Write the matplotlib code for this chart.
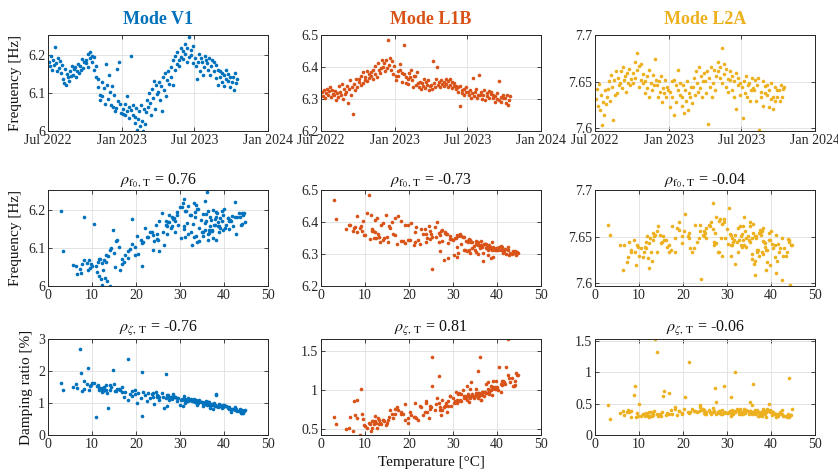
import numpy as np
import matplotlib
matplotlib.use("Agg")
import matplotlib.pyplot as plt
import matplotlib.dates as mdates
from matplotlib.ticker import FuncFormatter

plt.rcParams["font.family"] = "Liberation Serif"
plt.rcParams["mathtext.fontset"] = "stix"

# measurement days, counted from 1 Jul 2022
days = [
    3, 5, 8, 10, 13, 15, 18, 20, 23, 25, 28, 30,
    33, 35, 38, 40, 43, 45, 48, 50, 53, 55, 58, 60,
    63, 65, 68, 70, 73, 75, 78, 80, 83, 85, 88, 90,
    94, 96, 99, 101, 104, 106, 109, 111, 114, 116, 119, 121,
    124, 126, 129, 131, 134, 136, 139, 141, 144, 146, 149, 151,
    155, 157, 160, 162, 165, 167, 170, 172, 175, 177, 180, 182,
    186, 188, 191, 193, 196, 198, 201, 203, 206, 208, 211, 213,
    216, 218, 220, 223, 225, 227, 230, 232, 234, 237, 239, 241,
    245, 247, 250, 252, 255, 257, 260, 262, 265, 267, 270, 272,
    275, 277, 280, 282, 285, 287, 290, 292, 295, 297, 300, 302,
    306, 308, 311, 313, 316, 318, 321, 323, 326, 328, 331, 333,
    336, 338, 341, 343, 346, 348, 351, 353, 356, 358, 361, 363,
    367, 369, 372, 374, 377, 379, 382, 384, 387, 389, 392, 394,
    398, 400, 403, 405, 408, 410, 413, 415, 418, 420, 423, 425,
    428, 430, 433, 435, 438, 440, 443, 445, 448, 450, 453, 455,
    458, 461, 463, 466, 469, 472,
]

temperature = [
    38.2, 41.6, 36.4, 43.8, 39.7, 37.1, 42.5, 40.9, 38.8, 44.6, 35.7, 41.9,
    40.3, 34.8, 42.7, 37.6, 44.2, 36.3, 41.1, 38.9, 33.6, 42.1, 37.2, 39.5,
    36.6, 32.9, 38.7, 35.2, 30.8, 37.9, 34.4, 25.3, 29.6, 35.8, 31.7, 33.3,
    32.4, 28.7, 33.9, 27.2, 30.5, 25.8, 31.3, 28.1, 24.6, 29.4, 23.7, 26.9,
    24.8, 21.6, 23.9, 19.7, 22.8, 18.2, 21.3, 16.9, 19.1, 15.6, 20.4, 14.8,
    16.2, 12.8, 15.4, 11.3, 14.1, 10.8, 12.2, 10.4, 13.6, 8.1, 11.7, 9.5,
    9.8, 7.3, 11.9, 9.1, 3.5, 6.4, 13.2, 7.6, 3.0, 5.6, 12.6, 8.2,
    11.1, 12.9, 8.8, 12.3, 6.7, 10.1, 13.4, 9.4, 11.6, 14.2, 7.8, 12.1,
    15.3, 13.1, 17.2, 14.4, 18.1, 16.3, 19.2, 15.1, 20.3, 16.8, 21.2, 18.7,
    19.8, 22.4, 17.6, 24.1, 21.3, 23.2, 26.4, 22.1, 25.2, 23.8, 27.1, 24.7,
    26.2, 27.6, 24.9, 29.4, 26.8, 31.2, 28.3, 30.1, 32.2, 28.9, 30.7, 33.4,
    31.8, 35.3, 30.9, 34.2, 36.8, 33.1, 36.1, 38.2, 33.7, 37.4, 39.1, 35.6,
    38.4, 41.2, 36.3, 42.9, 40.1, 28.2, 44.2, 42.4, 37.2, 44.8, 39.6, 27.4,
    40.8, 37.7, 43.4, 39.8, 35.9, 44.3, 38.6, 43.7, 36.7, 41.3, 38.1, 40.4,
    36.8, 34.9, 39.2, 33.2, 35.7, 34.3, 37.9, 31.9, 35.2, 30.8, 33.8, 32.6,
    31.2, 28.8, 32.7, 27.9, 30.3, 27.1,
]

freq_v1 = [
    6.183, 6.171, 6.198, 6.162, 6.188, 6.174, 6.221, 6.179, 6.158, 6.193, 6.167, 6.185,
    6.152, 6.174, 6.138, 6.127, 6.163, 6.121, 6.149, 6.142, 6.133, 6.158, 6.146, 6.172,
    6.148, 6.163, 6.169, 6.141, 6.157, 6.176, 6.153, 6.171, 6.162, 6.189, 6.166, 6.181,
    6.187, 6.178, 6.203, 6.169, 6.208, 6.192, 6.197, 6.183, 6.161, 6.194, 6.143, 6.172,
    6.138, 6.117, 6.096, 6.083, 6.128, 6.091, 6.114, 6.072, 6.176, 6.122, 6.084, 6.147,
    6.103, 6.068, 6.118, 6.062, 6.094, 6.052, 6.061, 6.163, 6.079, 6.182, 6.071, 6.048,
    6.058, 6.046, 6.072, 6.041, 6.091, 6.053, 6.064, 6.034, 6.198, 6.055, 6.043, 6.069,
    6.038, 6.021, 6.061, 6.003, 6.032, 6.052, 6.012, 6.068, 6.027, 6.001, 6.057, 6.018,
    6.049, 6.082, 6.063, 6.101, 6.074, 6.041, 6.112, 6.088, 6.131, 6.058, 6.121, 6.097,
    6.102, 6.128, 6.081, 6.118, 6.052, 6.142, 6.109, 6.153, 6.093, 6.134, 6.158, 6.124,
    6.143, 6.168, 6.122, 6.187, 6.161, 6.198, 6.176, 6.209, 6.188, 6.172, 6.218, 6.196,
    6.212, 6.191, 6.228, 6.203, 6.182, 6.219, 6.247, 6.194, 6.213, 6.201, 6.178, 6.223,
    6.193, 6.172, 6.138, 6.181, 6.204, 6.158, 6.192, 6.183, 6.147, 6.168, 6.197, 6.186,
    6.178, 6.162, 6.193, 6.148, 6.171, 6.188, 6.157, 6.182, 6.139, 6.173, 6.121, 6.161,
    6.158, 6.141, 6.152, 6.128, 6.147, 6.118, 6.161, 6.137, 6.131, 6.149, 6.116, 6.142,
    6.128, 6.141, 6.109, 6.152, 6.126, 6.138,
]

freq_l1b = [
    6.321, 6.308, 6.327, 6.302, 6.318, 6.331, 6.312, 6.324, 6.338, 6.305, 6.329, 6.316,
    6.311, 6.326, 6.298, 6.319, 6.307, 6.342, 6.322, 6.313, 6.348, 6.301, 6.331, 6.317,
    6.323, 6.341, 6.286, 6.332, 6.358, 6.314, 6.337, 6.252, 6.346, 6.328, 6.362, 6.339,
    6.352, 6.361, 6.344, 6.372, 6.349, 6.383, 6.358, 6.368, 6.389, 6.357, 6.378, 6.366,
    6.372, 6.384, 6.363, 6.392, 6.378, 6.402, 6.369, 6.412, 6.391, 6.381, 6.398, 6.421,
    6.401, 6.412, 6.388, 6.423, 6.398, 6.485, 6.407, 6.428, 6.392, 6.418, 6.379, 6.403,
    6.358, 6.372, 6.371, 6.386, 6.409, 6.392, 6.354, 6.381, 6.469, 6.378, 6.351, 6.368,
    6.347, 6.362, 6.381, 6.368, 6.392, 6.358, 6.338, 6.373, 6.372, 6.343, 6.384, 6.351,
    6.338, 6.352, 6.331, 6.349, 6.342, 6.361, 6.334, 6.353, 6.344, 6.358, 6.329, 6.341,
    6.343, 6.332, 6.418, 6.351, 6.339, 6.362, 6.401, 6.344, 6.353, 6.336, 6.358, 6.347,
    6.352, 6.341, 6.362, 6.348, 6.338, 6.356, 6.361, 6.343, 6.352, 6.334, 6.349, 6.341,
    6.331, 6.342, 6.322, 6.336, 6.279, 6.341, 6.318, 6.329, 6.312, 6.331, 6.321, 6.338,
    6.321, 6.312, 6.328, 6.304, 6.318, 6.366, 6.309, 6.322, 6.331, 6.302, 6.314, 6.375,
    6.311, 6.322, 6.301, 6.314, 6.328, 6.298, 6.319, 6.308, 6.324, 6.302, 6.316, 6.321,
    6.304, 6.312, 6.291, 6.309, 6.301, 6.318, 6.297, 6.356, 6.307, 6.292, 6.303, 6.311,
    6.302, 6.289, 6.314, 6.282, 6.298, 6.309,
]

freq_l2a = [
    7.631, 7.642, 7.624, 7.647, 7.619, 7.636, 7.603, 7.628, 7.614, 7.641, 7.626, 7.634,
    7.642, 7.651, 7.629, 7.657, 7.644, 7.609, 7.652, 7.636, 7.661, 7.638, 7.654, 7.646,
    7.648, 7.661, 7.643, 7.666, 7.652, 7.656, 7.639, 7.659, 7.648, 7.664, 7.646, 7.653,
    7.659, 7.648, 7.671, 7.654, 7.681, 7.662, 7.644, 7.667, 7.652, 7.669, 7.649, 7.658,
    7.651, 7.638, 7.656, 7.643, 7.662, 7.633, 7.649, 7.641, 7.657, 7.646, 7.674, 7.652,
    7.646, 7.634, 7.651, 7.639, 7.656, 7.628, 7.643, 7.638, 7.652, 7.633, 7.644, 7.641,
    7.639, 7.623, 7.651, 7.634, 7.652, 7.614, 7.646, 7.628, 7.662, 7.641, 7.649, 7.636,
    7.634, 7.624, 7.646, 7.616, 7.641, 7.629, 7.651, 7.619, 7.638, 7.633, 7.644, 7.627,
    7.644, 7.654, 7.636, 7.661, 7.649, 7.639, 7.666, 7.643, 7.656, 7.634, 7.651, 7.659,
    7.651, 7.638, 7.661, 7.605, 7.654, 7.644, 7.666, 7.633, 7.649, 7.662, 7.641, 7.656,
    7.661, 7.671, 7.654, 7.666, 7.686, 7.649, 7.669, 7.658, 7.644, 7.664, 7.653, 7.639,
    7.652, 7.661, 7.641, 7.656, 7.634, 7.651, 7.621, 7.659, 7.646, 7.654, 7.636, 7.649,
    7.644, 7.611, 7.651, 7.638, 7.656, 7.633, 7.646, 7.649, 7.629, 7.641, 7.654, 7.643,
    7.641, 7.652, 7.629, 7.646, 7.654, 7.598, 7.639, 7.634, 7.651, 7.624, 7.645, 7.638,
    7.636, 7.646, 7.623, 7.641, 7.631, 7.649, 7.634, 7.621, 7.644, 7.629, 7.641, 7.633,
    7.641, 7.629, 7.646, 7.634, 7.642, 7.644,
]

damp_v1 = [
    0.92, 0.72, 1.02, 0.70, 0.88, 0.94, 0.78, 0.84, 0.98, 0.75, 1.00, 0.80,
    0.90, 1.02, 0.80, 0.95, 0.78, 0.98, 0.86, 0.92, 1.05, 0.82, 0.96, 0.88,
    0.95, 1.05, 0.90, 1.00, 1.12, 0.93, 1.08, 1.20, 1.15, 0.98, 1.10, 1.03,
    1.10, 1.18, 1.02, 1.25, 1.12, 1.30, 1.06, 1.20, 1.35, 1.15, 1.28, 1.92,
    1.25, 1.35, 1.20, 1.40, 1.30, 2.38, 0.60, 1.50, 1.38, 1.45, 1.32, 2.03,
    1.45, 1.50, 1.38, 1.55, 1.42, 0.55, 1.48, 1.62, 0.85, 1.68, 1.40, 1.52,
    1.55, 2.70, 1.48, 2.08, 1.40, 1.60, 1.42, 1.95, 1.62, 1.50, 1.38, 1.45,
    1.52, 1.40, 1.58, 1.35, 1.46, 1.62, 1.30, 1.42, 1.48, 1.55, 1.38, 1.44,
    1.38, 1.55, 1.18, 1.50, 1.10, 1.42, 1.22, 1.60, 1.00, 1.35, 1.15, 1.28,
    1.28, 1.05, 1.35, 0.98, 1.98, 1.15, 0.85, 1.25, 1.08, 1.30, 0.92, 1.18,
    1.18, 1.10, 1.22, 1.05, 1.15, 1.00, 1.28, 0.95, 1.08, 1.20, 0.90, 1.02,
    1.05, 0.90, 1.22, 1.00, 0.84, 1.12, 0.95, 1.25, 1.08, 0.80, 0.94, 1.02,
    0.92, 0.80, 1.02, 0.76, 0.94, 1.12, 0.70, 0.88, 0.95, 0.78, 0.84, 1.18,
    0.86, 1.00, 0.76, 0.94, 1.05, 0.70, 0.88, 0.80, 1.02, 0.82, 1.28, 0.92,
    0.98, 1.02, 0.90, 1.10, 0.96, 1.05, 0.92, 1.15, 1.00, 1.08, 0.95, 1.12,
    1.12, 1.20, 1.05, 1.18, 1.10, 1.25,
]

damp_l1b = [
    0.95, 1.10, 0.88, 1.05, 1.12, 0.92, 1.20, 0.98, 1.02, 1.20, 0.90, 1.08,
    1.00, 0.90, 1.15, 0.96, 1.06, 0.88, 1.12, 0.94, 0.85, 1.30, 0.98, 1.04,
    0.98, 0.90, 1.05, 0.94, 0.85, 1.10, 0.92, 1.42, 0.80, 0.96, 0.88, 0.95,
    0.90, 0.72, 1.02, 0.68, 0.86, 0.75, 0.96, 0.80, 0.64, 0.92, 0.72, 0.84,
    0.80, 0.64, 0.84, 0.58, 0.79, 0.72, 0.66, 0.70, 0.62, 0.75, 0.68, 0.55,
    0.70, 0.52, 0.66, 0.48, 0.62, 0.58, 0.67, 0.52, 0.56, 0.88, 0.61, 0.63,
    0.55, 0.48, 0.60, 1.02, 0.57, 0.52, 0.62, 0.86, 0.66, 0.50, 0.58, 0.64,
    0.57, 0.64, 0.43, 0.60, 0.66, 0.54, 0.58, 0.70, 0.52, 0.62, 0.68, 0.56,
    0.62, 0.56, 0.78, 0.60, 0.70, 0.64, 0.82, 0.58, 0.72, 0.76, 0.66, 0.70,
    0.64, 0.80, 0.74, 0.72, 0.84, 0.68, 0.90, 0.62, 1.05, 0.86, 0.78, 0.76,
    0.82, 0.88, 0.78, 0.92, 1.18, 0.95, 0.84, 0.90, 1.00, 0.86, 0.98, 0.93,
    0.95, 1.02, 0.88, 1.10, 0.98, 1.05, 1.43, 1.00, 0.92, 1.08, 1.12, 0.96,
    1.00, 1.06, 0.95, 1.10, 1.04, 0.80, 1.12, 1.65, 0.98, 1.20, 1.02, 0.75,
    1.08, 0.96, 1.15, 1.02, 0.92, 1.22, 1.00, 1.05, 0.94, 1.12, 0.98, 1.30,
    0.98, 0.92, 1.04, 0.88, 1.25, 0.95, 1.02, 0.86, 0.96, 0.84, 0.90, 0.93,
    0.86, 0.80, 0.92, 0.78, 0.84, 0.74,
]

damp_l2a = [
    0.35, 0.30, 0.38, 0.33, 0.36, 0.31, 0.40, 0.34, 0.29, 0.32, 0.37, 0.33,
    0.32, 0.38, 0.30, 0.35, 0.91, 0.34, 0.29, 0.37, 0.33, 0.36, 0.31, 0.39,
    0.36, 0.42, 0.33, 0.38, 0.35, 0.30, 0.40, 0.34, 0.37, 0.82, 0.39, 0.36,
    0.38, 0.34, 0.41, 0.75, 0.36, 0.40, 0.33, 0.38, 0.42, 0.35, 0.39, 0.43,
    0.40, 0.36, 0.44, 0.34, 0.38, 0.42, 0.35, 0.67, 0.39, 0.70, 0.60, 0.33,
    0.32, 0.36, 0.62, 0.30, 1.33, 0.34, 0.28, 0.31, 1.53, 0.38, 0.33, 0.35,
    0.30, 0.36, 0.34, 0.78, 0.25, 0.38, 0.32, 0.40, 0.48, 0.35, 0.31, 0.28,
    0.34, 0.30, 0.64, 0.36, 0.32, 0.49, 0.38, 0.29, 0.35, 0.33, 0.37, 0.31,
    0.36, 0.33, 0.40, 0.31, 0.44, 0.35, 0.38, 0.30, 0.42, 0.34, 0.37, 0.32,
    0.35, 0.38, 0.34, 0.40, 1.17, 0.36, 0.33, 0.41, 0.37, 0.48, 0.39, 0.35,
    0.37, 0.52, 0.34, 0.78, 0.36, 0.40, 0.38, 0.35, 0.42, 0.33, 0.39, 0.36,
    1.00, 0.38, 0.60, 0.35, 0.40, 0.33, 0.37, 0.42, 0.36, 0.34, 0.39, 0.48,
    0.36, 0.33, 0.40, 0.31, 0.38, 0.35, 0.29, 0.34, 0.37, 0.42, 0.50, 0.33,
    0.34, 0.37, 0.30, 0.40, 0.36, 0.32, 0.38, 0.28, 0.35, 0.33, 0.39, 0.36,
    0.38, 0.34, 0.41, 0.36, 0.33, 0.39, 0.35, 0.37, 0.53, 0.31, 0.36, 0.40,
    0.36, 0.40, 0.33, 0.37, 0.35, 0.39,
]

mode_names = ["Mode V1", "Mode L1B", "Mode L2A"]
mode_colors = ["#0072BD", "#D95319", "#EDB120"]
rho_freq = ["0.76", "-0.73", "-0.04"]
rho_damp = ["-0.76", "0.81", "-0.06"]
freqs = [freq_v1, freq_l1b, freq_l2a]
damps = [damp_v1, damp_l1b, damp_l2a]

freq_lims = [(6.0, 6.253), (6.2, 6.5), (7.597, 7.7)]
freq_ticks = [[6.0, 6.1, 6.2], [6.2, 6.3, 6.4, 6.5], [7.6, 7.65, 7.7]]
damp_lims = [(0, 3), (0.425, 1.656), (0, 1.53)]
damp_ticks = [[0, 1, 2, 3], [0.5, 1, 1.5], [0, 0.5, 1, 1.5]]

dates = np.datetime64("2022-07-01") + np.array(days).astype("timedelta64[D]")
date_ticks = np.array(["2022-07-01", "2023-01-01", "2023-07-01", "2024-01-01"],
                      dtype="datetime64[D]")

W, H = 838, 474
fig = plt.figure(figsize=(W / 100, H / 100), dpi=100)

lefts = [48, 321, 595]
tops = [35, 190, 339]
aw, ah = 220, 96
axc = "#262626"
fmt = FuncFormatter(lambda v, p: "%g" % v)


def make_axes(row, col):
    ax = fig.add_axes([lefts[col] / W, 1 - (tops[row] + ah) / H, aw / W, ah / H])
    ax.set_axisbelow(True)
    ax.grid(True, color="#dfdfdf", lw=0.6)
    ax.tick_params(direction="in", top=True, right=True, length=3, width=0.6,
                   labelsize=10, colors=axc, pad=2)
    for s in ax.spines.values():
        s.set_linewidth(0.7)
        s.set_color(axc)
    ax.yaxis.set_major_formatter(fmt)
    return ax


def rho_title(ax, sym, value):
    ax.set_title(r"$\rho_{%s,\,\mathrm{T}}$ = %s" % (sym, value),
                 fontsize=11.5, color="#111111", pad=5)


for c in range(3):
    color = mode_colors[c]

    # frequency over time
    ax = make_axes(0, c)
    ax.plot(dates, freqs[c], "o", ms=2.6, mew=0, color=color)
    ax.set_xlim(date_ticks[0], date_ticks[-1])
    ax.set_xticks(date_ticks)
    ax.xaxis.set_major_formatter(mdates.DateFormatter("%b %Y"))
    ax.set_ylim(*freq_lims[c])
    ax.set_yticks(freq_ticks[c])
    ax.set_title(mode_names[c], fontsize=13, fontweight="bold", color=color, pad=8)
    if c == 0:
        ax.set_ylabel("Frequency [Hz]", fontsize=11, color="#111111")

    # frequency against temperature
    ax = make_axes(1, c)
    ax.plot(temperature, freqs[c], "o", ms=2.6, mew=0, color=color)
    ax.set_xlim(0, 50)
    ax.set_xticks([0, 10, 20, 30, 40, 50])
    ax.set_ylim(*freq_lims[c])
    ax.set_yticks(freq_ticks[c])
    rho_title(ax, r"\mathrm{f}_0", rho_freq[c])
    if c == 0:
        ax.set_ylabel("Frequency [Hz]", fontsize=11, color="#111111")

    # damping against temperature
    ax = make_axes(2, c)
    ax.plot(temperature, damps[c], "o", ms=2.6, mew=0, color=color)
    ax.set_xlim(0, 50)
    ax.set_xticks([0, 10, 20, 30, 40, 50])
    ax.set_ylim(*damp_lims[c])
    ax.set_yticks(damp_ticks[c])
    rho_title(ax, r"\zeta", rho_damp[c])
    if c == 0:
        ax.set_ylabel("Damping ratio [%]", fontsize=11, color="#111111")
    if c == 1:
        ax.set_xlabel("Temperature [°C]", fontsize=11, color="#111111")

fig.savefig("out.png", dpi=100)
